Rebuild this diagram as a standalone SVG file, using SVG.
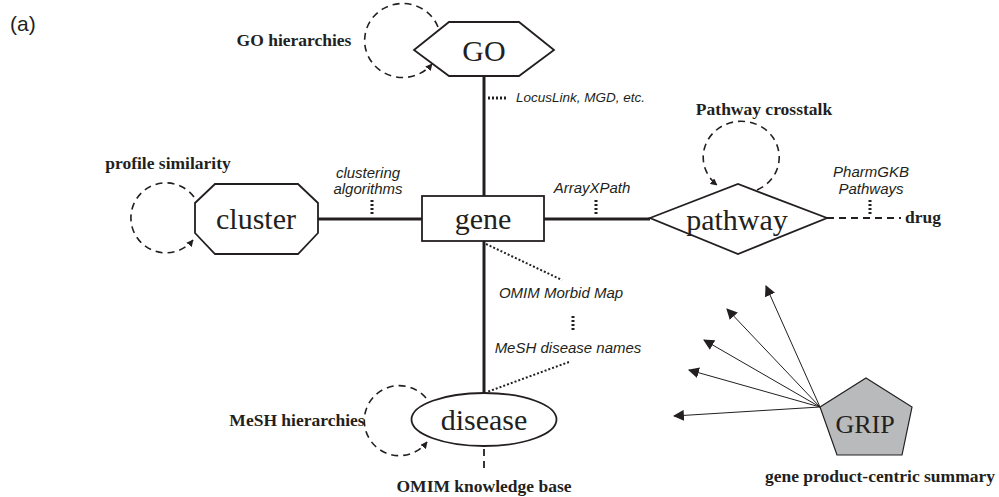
<svg xmlns="http://www.w3.org/2000/svg" width="999" height="497" viewBox="0 0 999 497">
<style>
.node{fill:#fff;stroke:#231f20;stroke-width:1.8}
.big{font-family:"Liberation Serif",serif;font-size:30px;fill:#231f20;text-anchor:middle}
.bold{font-family:"Liberation Serif",serif;font-size:17.5px;font-weight:bold;fill:#231f20}
.it{font-family:"Liberation Sans",sans-serif;font-size:15px;font-style:italic;fill:#231f20;text-anchor:middle}
.solid{stroke:#231f20;stroke-width:3;fill:none}
.loop{stroke:#231f20;stroke-width:1.6;fill:none;stroke-dasharray:7,5;marker-end:url(#ah)}
.dash{stroke:#231f20;stroke-width:1.8;fill:none;stroke-dasharray:7,5}
.dot{stroke:#231f20;stroke-width:3;fill:none;stroke-dasharray:2,2}
.dotline{stroke:#231f20;stroke-width:2;fill:none;stroke-dasharray:2,2}
.thin{stroke:#231f20;stroke-width:1;fill:none;marker-end:url(#ah2)}
</style>
<defs>
<marker id="ah" viewBox="0 0 10 10" refX="9" refY="5" markerWidth="7" markerHeight="7" markerUnits="userSpaceOnUse" orient="auto"><path d="M0,0 L10,5 L0,10 z" fill="#231f20"/></marker>
<marker id="ah2" viewBox="0 0 10 10" refX="9" refY="5" markerWidth="11" markerHeight="11" markerUnits="userSpaceOnUse" orient="auto"><path d="M0,0 L10,5 L0,10 z" fill="#231f20"/></marker>
</defs>
<rect width="999" height="497" fill="#fff"/>
<text x="10" y="31" font-family="Liberation Sans,sans-serif" font-size="21" fill="#231f20">(a)</text>

<g id="connectors">
<line class="solid" x1="484" y1="76" x2="484" y2="196"/>
<line class="solid" x1="318" y1="219" x2="422" y2="219"/>
<line class="solid" x1="544" y1="219" x2="650" y2="219"/>
<line class="solid" x1="484" y1="241" x2="484" y2="393"/>
<line class="dash" x1="827" y1="218" x2="901" y2="218"/>
<line class="dash" x1="484" y1="449" x2="484" y2="470"/>
<line class="dotline" x1="486" y1="244" x2="562" y2="280"/>
<line class="dotline" x1="569" y1="362" x2="487" y2="392"/>
<line class="dot" x1="488" y1="98" x2="506" y2="98"/>
<line class="dot" x1="372" y1="200" x2="372" y2="216"/>
<line class="dot" x1="596" y1="200" x2="596" y2="216"/>
<line class="dot" x1="870" y1="200" x2="870" y2="215"/>
<line class="dot" x1="573" y1="316" x2="573" y2="332"/>
<path class="loop" d="M438,27 A38,37 0 1 0 432,64"/>
<path class="loop" d="M194,197 A35,35 0 1 0 193,240"/>
<path class="loop" d="M426,398 A35,35 0 1 0 427,442"/>
<path class="loop" d="M757,190 A38,36 0 1 0 717,185"/>
<line class="thin" x1="820" y1="407" x2="766" y2="286"/>
<line class="thin" x1="820" y1="407" x2="727" y2="309"/>
<line class="thin" x1="820" y1="407" x2="704" y2="340"/>
<line class="thin" x1="820" y1="407" x2="689" y2="370"/>
<line class="thin" x1="820" y1="407" x2="674" y2="416"/>
</g>

<g id="GO">
<polygon class="node" points="414,50 449,22 519,22 554,50 519,76 449,76"/>
<text class="big" x="484" y="61">GO</text>
</g>
<g id="gene">
<rect class="node" x="422" y="196" width="122" height="45"/>
<text class="big" x="483" y="229">gene</text>
</g>
<g id="cluster">
<polygon class="node" points="215,184 298,184 318,203 318,233 298,254 215,254 195,233 195,203"/>
<text class="big" x="256" y="229">cluster</text>
</g>
<g id="pathway">
<polygon class="node" points="650,218 738,184 827,218 738,254"/>
<text class="big" x="737" y="230">pathway</text>
</g>
<g id="disease">
<ellipse class="node" cx="484" cy="419.5" rx="72.5" ry="26.5"/>
<text class="big" x="484" y="430">disease</text>
</g>
<g id="GRIP">
<polygon points="866,378 912,407 902,455 837,455 820,407" fill="#b8babc" stroke="#231f20" stroke-width="1.2"/>
<text x="865" y="433" font-family="Liberation Serif,serif" font-size="26" fill="#231f20" text-anchor="middle">GRIP</text>
</g>

<g id="labels">
<text class="bold" x="294" y="46" text-anchor="middle">GO hierarchies</text>
<text class="bold" x="168" y="169" text-anchor="middle">profile similarity</text>
<text class="bold" x="764" y="115" text-anchor="middle">Pathway crosstalk</text>
<text class="bold" x="905" y="223">drug</text>
<text class="bold" x="297" y="426" text-anchor="middle">MeSH hierarchies</text>
<text class="bold" x="484" y="492" text-anchor="middle">OMIM knowledge base</text>
<text class="bold" x="880" y="482" text-anchor="middle">gene product-centric summary</text>
<text class="it" x="516" y="102" style="font-size:13.5px;text-anchor:start">LocusLink, MGD, etc.</text>
<text class="it" x="368" y="178">clustering</text>
<text class="it" x="368" y="194">algorithms</text>
<text class="it" x="592" y="193">ArrayXPath</text>
<text class="it" x="871" y="177">PharmGKB</text>
<text class="it" x="871" y="194">Pathways</text>
<text class="it" x="561" y="298">OMIM Morbid Map</text>
<text class="it" x="568" y="353">MeSH disease names</text>
</g>
</svg>
